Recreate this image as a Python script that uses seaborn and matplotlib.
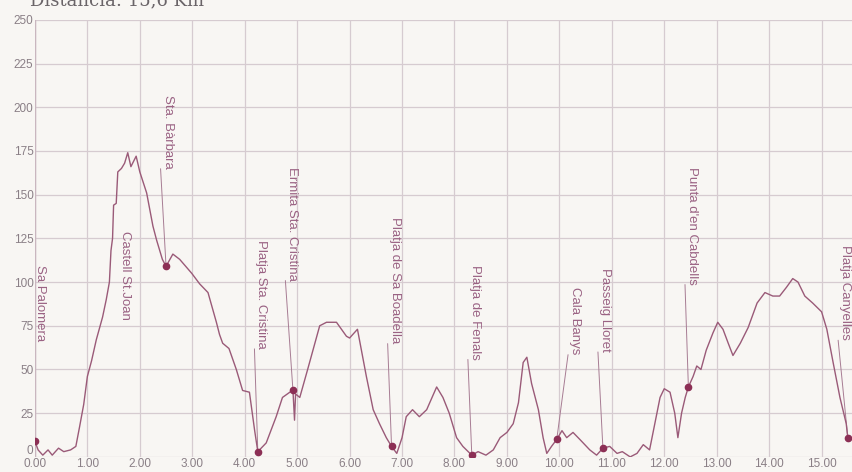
import matplotlib
matplotlib.use("Agg")
import matplotlib.pyplot as plt
import seaborn as sns

# elevation profile (km, metres)
km = [0.0, 0.06, 0.15, 0.25, 0.33, 0.45, 0.55, 0.68, 0.78, 0.85, 0.93, 1.0, 1.08, 1.17,
      1.29, 1.36, 1.42, 1.45, 1.48, 1.5, 1.55, 1.58, 1.65, 1.71, 1.77, 1.83, 1.93, 2.0,
      2.13, 2.25, 2.32, 2.43, 2.5, 2.63, 2.76, 2.99, 3.14, 3.3, 3.46, 3.52, 3.58, 3.7,
      3.84, 3.96, 4.09, 4.19, 4.25, 4.41, 4.6, 4.72, 4.86, 4.92, 4.95, 4.97, 5.05, 5.2,
      5.43, 5.56, 5.75, 5.94, 6.0, 6.15, 6.32, 6.45, 6.57, 6.7, 6.8, 6.9, 7.0, 7.08,
      7.2, 7.33, 7.47, 7.66, 7.78, 7.9, 8.04, 8.16, 8.33, 8.45, 8.6, 8.74, 8.87, 9.0,
      9.12, 9.22, 9.31, 9.38, 9.47, 9.6, 9.69, 9.76, 9.85, 9.95, 10.05, 10.14, 10.26,
      10.39, 10.58, 10.71, 10.83, 10.96, 11.1, 11.2, 11.35, 11.48, 11.6, 11.72, 11.82,
      11.92, 12.0, 12.11, 12.2, 12.26, 12.33, 12.4, 12.46, 12.55, 12.62, 12.7, 12.8,
      12.93, 13.02, 13.12, 13.22, 13.31, 13.45, 13.6, 13.77, 13.92, 14.07, 14.2, 14.33,
      14.45, 14.55, 14.68, 14.83, 15.0, 15.1, 15.22, 15.35, 15.47, 15.5]
elev = [9, 4, 1, 4, 1, 5, 3, 4, 6, 17, 30, 46, 55, 67,
        80, 90, 100, 118, 125, 144, 145, 163, 165, 168, 174, 166, 172, 163,
        151, 132, 124, 113, 109, 116, 113, 105, 99, 94, 77, 70, 65, 62,
        50, 38, 37, 15, 3, 8, 23, 34, 37, 38, 21, 36, 34, 50,
        75, 77, 77, 69, 68, 73, 46, 27, 19, 11, 6, 2, 11, 23,
        27, 23, 27, 40, 34, 25, 11, 6, 1, 3, 1, 4, 11, 14,
        19, 31, 54, 57, 42, 27, 11, 2, 6, 10, 15, 11, 14,
        10, 4, 1, 5, 6, 2, 3, 0, 2, 7, 4, 19,
        34, 39, 37, 25, 11, 25, 34, 40, 46, 52, 50, 61,
        71, 77, 73, 65, 58, 65, 74, 88, 94, 92, 92, 97,
        102, 100, 92, 88, 83, 73, 54, 34, 19, 11]

# waypoints
names = ["Sa Palomera", "Castell St.Joan", "Sta. Bàrbara", "Platja Sta. Cristina",
         "Ermita Sta. Cristina", "Platja de Sa Boadella", "Platja de Fenals",
         "Cala Banys", "Passeig Lloret", "Punta d'en Cabdells", "Platja Canyelles"]
wp_km = [0.0, None, 2.5, 4.25, 4.92, 6.8, 8.33, 9.95, 10.83, 12.46, 15.5]
wp_elev = [9, None, 109, 3, 38, 6, 1, 10, 5, 40, 11]
label_km = [0.09, 1.71, 2.53, 4.32, 4.91, 6.86, 8.39, 10.3, 10.87, 12.53, 15.45]
label_top = [110, 129, 207, 124, 166, 137, 110, 97, 108, 166, 121]

line_col = "#9a5a78"
grid_col = "#d6cbd0"
text_col = "#8a7f86"

sns.set_theme(style="white")
plt.rcParams["font.family"] = ["Liberation Sans", "DejaVu Sans"]

fig = plt.figure(figsize=(8.52, 4.72), dpi=100, facecolor="#f8f6f3")
ax = fig.add_axes([0.041, 0.032, 0.959, 0.926])
ax.set_facecolor("#f8f6f3")

sns.lineplot(x=km, y=elev, sort=False, estimator=None, color=line_col,
             linewidth=1.0, ax=ax, zorder=3)

ax.set_xlim(0, 15.58)
ax.set_ylim(0, 250)

texts = []
for name, lx, ly in zip(names, label_km, label_top):
    t = ax.text(lx, ly, name, rotation=270, ha="center", va="top", fontsize=9.5,
                color="#9a6283", zorder=4, clip_on=False)
    texts.append(t)

fig.canvas.draw()
inv = ax.transData.inverted()
for t, wx, wy in zip(texts, wp_km, wp_elev):
    if wx is None:
        continue
    bb = t.get_window_extent()
    x0, y0 = inv.transform((bb.x0, bb.y0))
    ax.plot([x0 - 0.02, wx], [y0, wy], color="#a77c93", linewidth=0.7, zorder=2)
    ax.plot(wx, wy, "o", color="#8c2f55", markersize=4.5, zorder=5)

ax.set_xticks(range(0, 16))
ax.set_xticklabels([f"{v:.2f}" for v in range(0, 16)])
ax.set_yticks(range(0, 251, 25))
ax.grid(True, color=grid_col, linewidth=0.9)
ax.tick_params(axis="both", labelsize=8.5, colors=text_col, length=0, pad=1)
ax.get_yticklabels()[0].set_va("bottom")
for s in ax.spines.values():
    s.set_visible(False)
ax.axvline(0, color="#c9b6bf", linewidth=1)
ax.set_xlabel("")
ax.set_ylabel("")

fig.text(0.035, 1.0, "Distancia: 15,6 Km", family="DejaVu Serif", fontsize=13,
         color="#6a6468", va="center", ha="left")

fig.savefig("out.png", dpi=100, facecolor=fig.get_facecolor())
